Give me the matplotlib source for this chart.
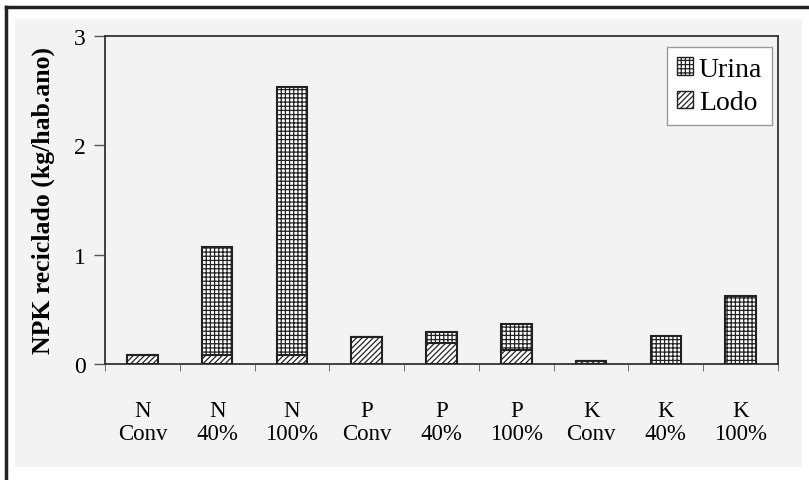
import matplotlib
matplotlib.use("Agg")
import matplotlib.pyplot as plt
from matplotlib.patches import Patch, Rectangle
from matplotlib.lines import Line2D
import numpy as np

# data
nutrients = ["N", "N", "N", "P", "P", "P", "K", "K", "K"]
scenarios = ["Conv", "40%", "100%", "Conv", "40%", "100%", "Conv", "40%", "100%"]
lodo = [0.08, 0.08, 0.08, 0.25, 0.195, 0.13, 0.025, 0.0, 0.0]
urina = [0.0, 0.99, 2.45, 0.0, 0.095, 0.24, 0.0, 0.26, 0.62]

plt.rcParams['font.family'] = ['Liberation Serif', 'DejaVu Serif']
plt.rcParams['hatch.linewidth'] = 0.9

bg = "#f3f3f3"
fig = plt.figure(figsize=(8.09, 4.81), dpi=100, facecolor="white")

# light panel + black frame lines like the scanned figure
fig.add_artist(Rectangle((15 / 809, 1 - 468 / 481), (802 - 15) / 809, (468 - 20) / 481,
                         transform=fig.transFigure, facecolor=bg, edgecolor="none", zorder=-5))
fig.add_artist(Line2D([6 / 809, 6 / 809], [0, 1 - 8 / 481], transform=fig.transFigure,
                      color="#222222", lw=2.5))
fig.add_artist(Line2D([6 / 809, 1], [1 - 8 / 481, 1 - 8 / 481], transform=fig.transFigure,
                      color="#222222", lw=2.5))

ax = fig.add_axes([105 / 809, 1 - 365 / 481, 673 / 809, 328 / 481])
ax.set_facecolor(bg)

x = np.arange(len(nutrients))
w = 0.41
ax.bar(x, lodo, w, color="white", edgecolor="#222222", hatch="//////", linewidth=1.5, zorder=3)
ax.bar(x, urina, w, bottom=lodo, color="white", edgecolor="#222222", hatch="++++",
       linewidth=1.5, zorder=3)

ax.set_xlim(-0.5, len(nutrients) - 0.5)
ax.set_ylim(0, 3)
ax.set_yticks([0, 1, 2, 3])
ax.tick_params(axis="y", direction="out", length=8, width=1, pad=6, labelsize=17,
               color="#555555")

ax.set_xticks(x)
ax.set_xticklabels([f"{n}\n{s}" for n, s in zip(nutrients, scenarios)],
                   fontsize=16.5, linespacing=1.12)
ax.tick_params(axis="x", length=0, pad=26)
ax.set_xticks(np.arange(-0.5, len(nutrients)), minor=True)
ax.tick_params(axis="x", which="minor", direction="out", length=5, color="#555555")

for s in ax.spines.values():
    s.set_color("#333333")
    s.set_linewidth(1.3)

ax.set_ylabel("NPK reciclado (kg/hab.ano)", fontsize=18.5, fontweight="bold")
ax.yaxis.set_label_coords(-0.074, 0.5)

handles = [Patch(facecolor="white", edgecolor="#222222", hatch="++++", label="Urina"),
           Patch(facecolor="white", edgecolor="#222222", hatch="//////", label="Lodo")]
leg = ax.legend(handles=handles, loc="upper right", bbox_to_anchor=(0.991, 0.966),
                borderaxespad=0, fontsize=20, handlelength=0.6, handleheight=0.6,
                handletextpad=0.2, fancybox=False, framealpha=1, labelspacing=0.3,
                borderpad=0.35)
leg.get_frame().set_edgecolor("#999999")
leg.get_frame().set_linewidth(1)

fig.savefig("out.png", dpi=100, facecolor="white")
